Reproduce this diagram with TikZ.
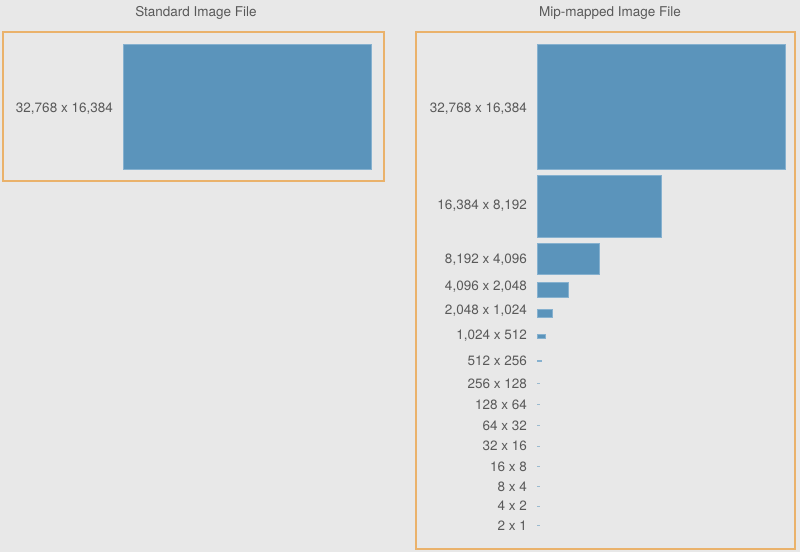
\documentclass[tikz,border=0pt]{standalone}
\usepackage{fontspec}
\setmainfont{TeX Gyre Heros}
\usepackage{xcolor}
\usetikzlibrary{positioning}

\definecolor{bgray}{HTML}{E8E8E8}
\definecolor{frameorange}{HTML}{EAB26B}
\definecolor{mipblue}{HTML}{5B94BB}
\definecolor{mipedge}{HTML}{86B1CF}
\definecolor{labelgray}{HTML}{595959}

\tikzset{
    filebox/.style={draw=frameorange, line width=1.4pt},
    level/.style={fill=mipblue, draw=mipedge, line width=0.5pt},
    tiny/.style={fill=mipblue!55!bgray},
    sizelabel/.style={anchor=base east, inner sep=0pt, text=labelgray, font=\fontsize{13.5}{16}\selectfont},
    title/.style={anchor=base, inner sep=0pt, text=labelgray, font=\fontsize{13.5}{16}\selectfont}
}

\begin{document}
\begin{tikzpicture}[x=1pt, y=-1pt]
        \fill[bgray] (0, 0) rectangle (800, 552);
        \useasboundingbox (0, 0) rectangle (800, 552);

        % standard file
        \node[title] (stdtitle) at (196, 16) {Standard Image File};
        \draw[filebox] (3, 32) rectangle (384, 181);
        \fill[level] (123, 44) rectangle (371, 169);
        \node[sizelabel] (std) at (113, 112.9) {32,768 x 16,384};

        % mip-mapped file
        \node[title] (miptitle) at (610, 16) {Mip-mapped Image File};
        \draw[filebox] (416, 32) rectangle (795, 549);

        \foreach \top/\w/\h/\ly/\lab in {44/248/125/108/{32,768 x 16,384}, 175/124/62/205/{16,384 x 8,192},
            243/62/31/259/{8,192 x 4,096}, 282/31/15.5/286/{4,096 x 2,048}, 309.5/15.5/7.8/310/{2,048 x 1,024},
            334.7/7.8/3.9/335/{1,024 x 512}, 359.8/3.9/1.9/360.7/{512 x 256}} {
            \fill[level] (537, \top) rectangle (537+\w, \top+\h);
            \node[sizelabel] (mip\ly) at (527, \ly+4.9) {\lab};
        }

        \foreach \ly/\lab in {383.3/{256 x 128}, 404.3/{128 x 64}, 425.3/{64 x 32}, 446/{32 x 16},
            466.7/{16 x 8}, 486.7/{8 x 4}, 506/{4 x 2}, 525.7/{2 x 1}} {
            \fill[tiny] (537, \ly-0.5) rectangle (539.5, \ly+0.5);
            \node[sizelabel] (mip\ly) at (527, \ly+4.9) {\lab};
        }
    \end{tikzpicture}
\end{document}
